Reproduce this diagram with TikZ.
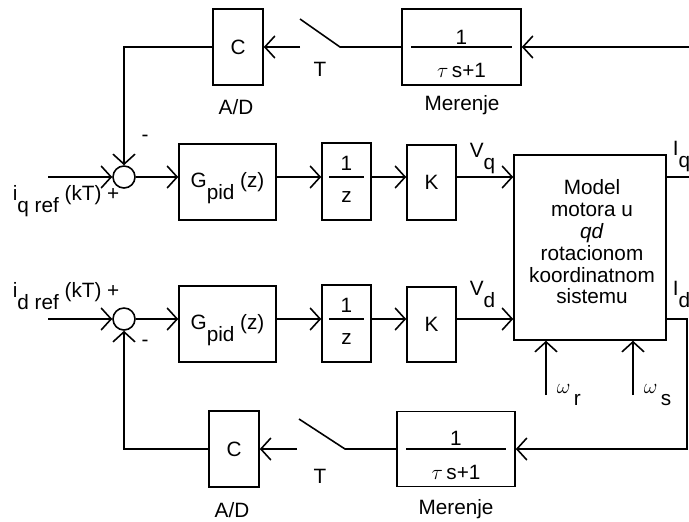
\documentclass[tikz,border=0pt]{standalone}
\usepackage{fontspec}
\setmainfont{Liberation Sans}
\usetikzlibrary{arrows.meta, positioning}
\newcommand{\lowsub}[1]{\smash{\raisebox{-0.6em}{#1}}}

\begin{document}
\begin{tikzpicture}[
        x=0.02cm, y=-0.02cm,
        font=\fontsize{11.8}{12.4}\selectfont,
        line width=0.9pt,
        block/.style={draw, inner sep=0pt, align=center},
        sumnode/.style={draw, circle, minimum size=0.44cm, inner sep=0pt},
        arr/.style={-{Straight Barb[length=2mm, width=4.4mm]}},
        lbl/.style={inner sep=0pt},
    ]
    \useasboundingbox (0,0) rectangle (689,521);

    % q row
    \coordinate (inq) at (48,177);
    \node[sumnode] (sumq) at (124,177) {};
    \node[block, minimum width=1.94cm, minimum height=1.52cm] (gq) at (227.5,182) {G\lowsub{pid} (z)};
    \node[block, minimum width=0.98cm, minimum height=1.54cm] (zq) at (346.5,181.5) {};
    \node[lbl] (zq1) at (346.5,163) {1};
    \node[lbl] (zqz) at (346.5,197) {z};
    \node[block, minimum width=0.98cm, minimum height=1.5cm] (kq) at (431.5,182.5) {K};
    \node[lbl, anchor=base west] (iqref) at (12,200) {i\lowsub{q ref} (kT) +};
    \node[lbl] (minusq) at (145,138) {-};
    \node[lbl, anchor=base west] (vq) at (469,157) {V\lowsub{q}};
    \node[lbl, anchor=base west] (iq) at (672,155) {I\lowsub{q}};
    \coordinate (outq) at (690,177);

    % motor model
    \node[block, minimum width=3.04cm, minimum height=3.7cm] (model) at (590,247.5) {};
    \node[lbl, align=center] (modeltxt) at (592,242) {Model\\motora u\\\textit{qd}\\rotacionom\\koordinatnom\\sistemu};

    % d row
    \coordinate (ind) at (48,319);
    \node[sumnode] (sumd) at (124,319) {};
    \node[block, minimum width=1.94cm, minimum height=1.52cm] (gd) at (227.5,324) {G\lowsub{pid} (z)};
    \node[block, minimum width=0.98cm, minimum height=1.54cm] (zd) at (346.5,323.5) {};
    \node[lbl] (zd1) at (346.5,305) {1};
    \node[lbl] (zdz) at (346.5,339) {z};
    \node[block, minimum width=0.98cm, minimum height=1.5cm] (kd) at (431.5,324.5) {K};
    \node[lbl, anchor=base west] (idref) at (12,297) {i\lowsub{d ref} (kT) +};
    \node[lbl] (minusd) at (145,343) {-};
    \node[lbl, anchor=base west] (vd) at (469,295) {V\lowsub{d}};
    \node[lbl, anchor=base west] (id) at (672,295) {I\lowsub{d}};

    % speeds
    \coordinate (wr) at (546,395);
    \coordinate (ws) at (633,395);
    \node[lbl, anchor=base west] (wrl) at (556,393) {$\omega$\,\lowsub{r}};
    \node[lbl, anchor=base west] (wsl) at (643,393) {$\omega$\,\lowsub{s}};

    % top feedback
    \node[block, minimum width=1cm, minimum height=1.52cm] (cq) at (238,47) {C};
    \node[lbl] (adq) at (236,107) {A/D};
    \coordinate (swq) at (300,47);
    \coordinate (swqa) at (300,19);
    \coordinate (swqb) at (340,47);
    \node[lbl] (tq) at (320,69) {T};
    \node[block, minimum width=2.38cm, minimum height=1.52cm] (merq) at (461.5,47) {};
    \node[lbl] (merq1) at (461.5,37) {1};
    \node[lbl] (merqd) at (461.5,70) {$\tau$\,s+1};
    \node[lbl] (merql) at (462,105) {Merenje};
    \coordinate (inmq) at (690,47);

    % bottom feedback
    \node[block, minimum width=1cm, minimum height=1.52cm] (cd) at (234,449) {C};
    \node[lbl] (add) at (232,510) {A/D};
    \coordinate (swd) at (297,449);
    \coordinate (swda) at (299,419);
    \coordinate (swdb) at (345,449);
    \node[lbl] (td) at (320,476) {T};
    \node[block, minimum width=2.36cm, minimum height=1.5cm] (merd) at (456,449) {};
    \node[lbl] (merd1) at (456,438) {1};
    \node[lbl] (merdd) at (456,472) {$\tau$\,s+1};
    \node[lbl] (merdl) at (456,509) {Merenje};
    \coordinate (rd) at (687,449);

    % forward paths
    \draw[arr] (inq) -- (sumq);
    \draw[arr] (sumq) -- (sumq -| gq.west);
    \draw[arr] (gq.east |- sumq) -- (zq.west |- sumq);
    \draw[arr] (zq.east |- sumq) -- (kq.west |- sumq);
    \draw[arr] (kq.east |- sumq) -- (model.west |- sumq);
    \draw (model.east |- sumq) -- (outq);
    \draw ([xshift=0.16cm]zq.west |- sumq) -- ([xshift=-0.16cm]zq.east |- sumq);

    \draw[arr] (ind) -- (sumd);
    \draw[arr] (sumd) -- (sumd -| gd.west);
    \draw[arr] (gd.east |- sumd) -- (zd.west |- sumd);
    \draw[arr] (zd.east |- sumd) -- (kd.west |- sumd);
    \draw[arr] (kd.east |- sumd) -- (model.west |- sumd);
    \draw ([xshift=0.16cm]zd.west |- sumd) -- ([xshift=-0.16cm]zd.east |- sumd);

    \draw[arr] (wr) -- (wr |- model.south);
    \draw[arr] (ws) -- (ws |- model.south);

    % feedback paths
    \draw[arr] (inmq) -- (merq.east);
    \draw ([xshift=0.2cm]merq.west) -- ([xshift=-0.2cm]merq.east);
    \draw (merq.west) -- (swqb) -- (swqa);
    \draw[arr] (swq) -- (cq.east);
    \draw[arr] (cq.west) -| (sumq);

    \draw[arr] (model.east |- sumd) -| (rd) -- (merd.east);
    \draw ([xshift=0.2cm]merd.west) -- ([xshift=-0.2cm]merd.east);
    \draw (merd.west) -- (swdb) -- (swda);
    \draw[arr] (swd) -- (cd.east);
    \draw[arr] (cd.west) -| (sumd);
\end{tikzpicture}
\end{document}
